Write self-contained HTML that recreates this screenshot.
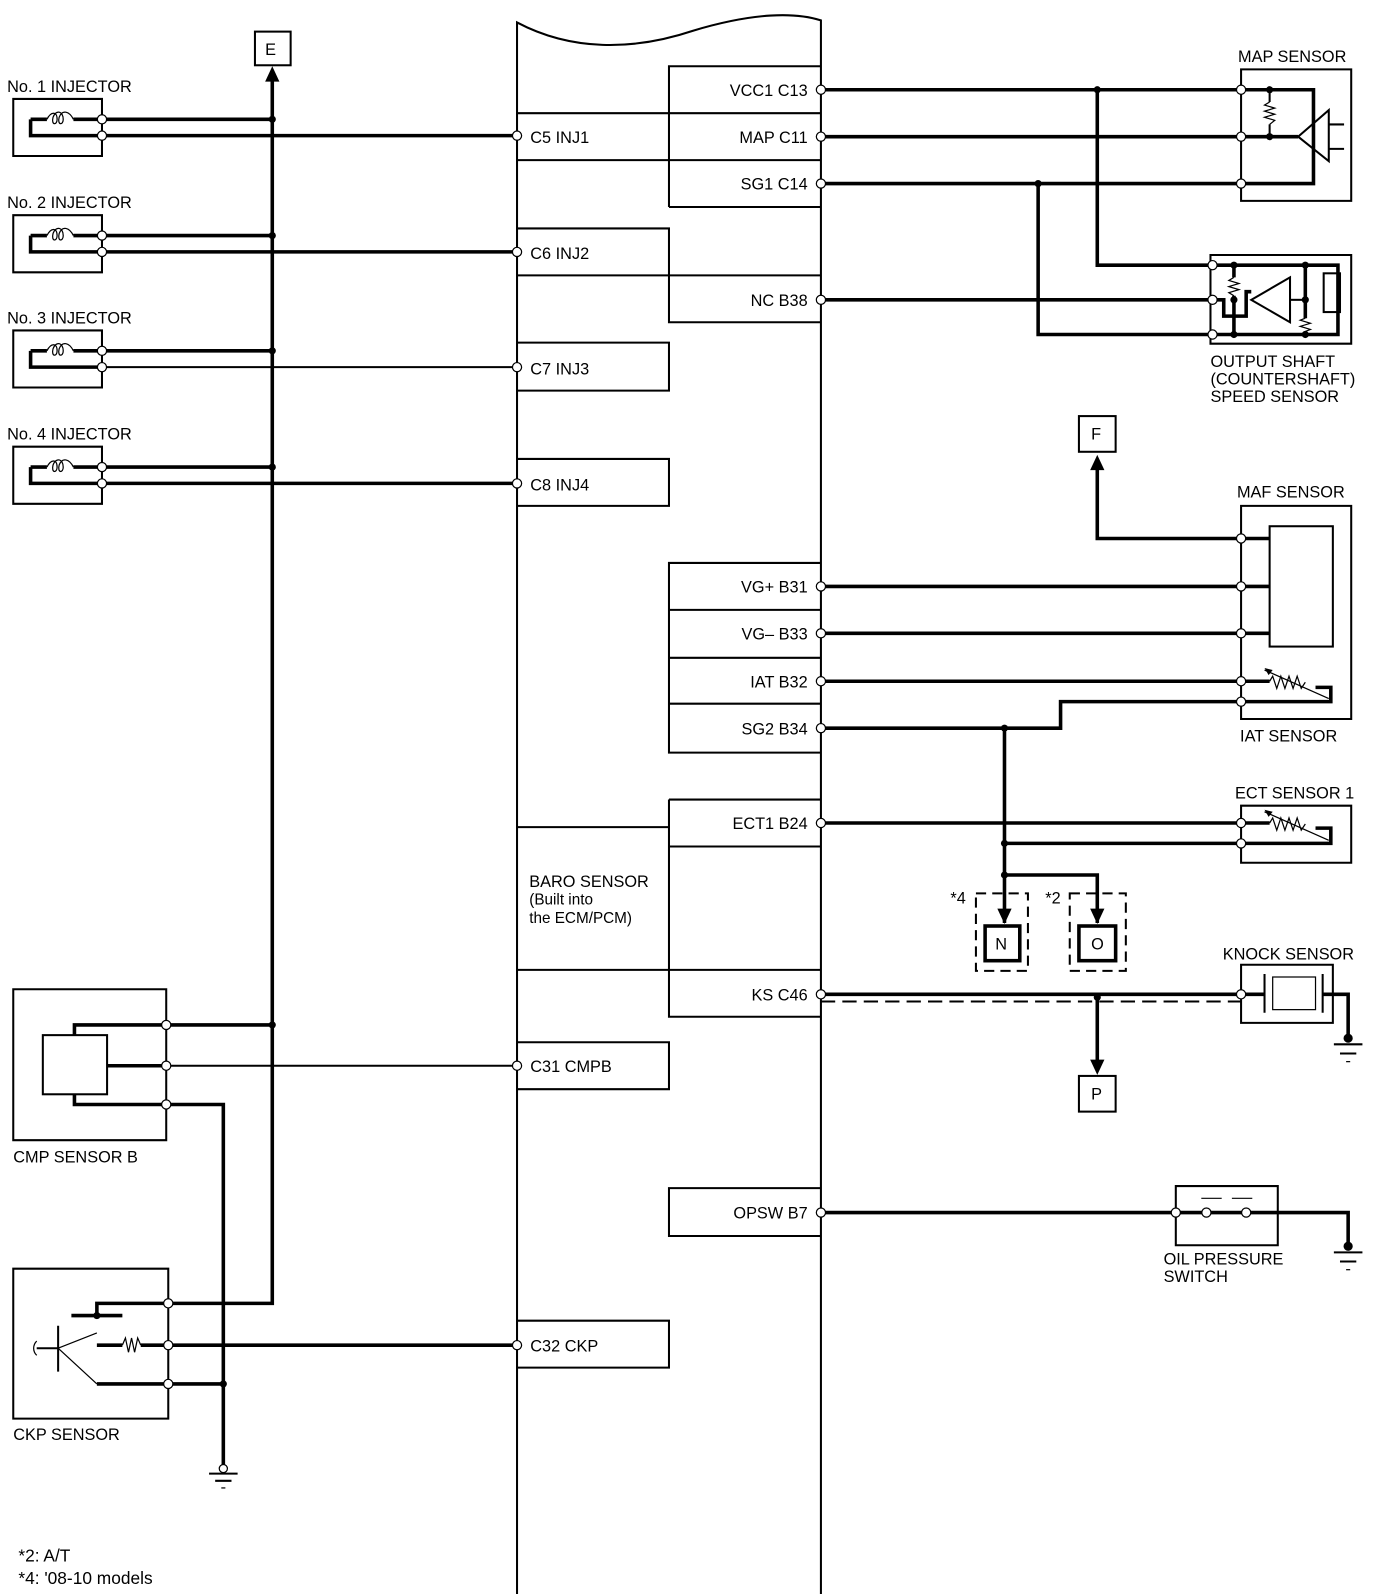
<!DOCTYPE html>
<html><head><meta charset="utf-8"><style>
html,body{margin:0;padding:0;background:#fff}
svg{display:block}
text{font-family:"Liberation Sans",Arial,sans-serif;font-size:16px;fill:#000}
.w{stroke:#000;stroke-width:3.5;fill:none}
.t{stroke:#000;stroke-width:2;fill:none}
.h{stroke:#000;stroke-width:1.2;fill:none}
.p{fill:#fff;stroke:#000;stroke-width:1.2}
.d{fill:#000}
</style></head><body>
<svg width="1392" height="1594" viewBox="0 0 1365 1563" preserveAspectRatio="none" xmlns="http://www.w3.org/2000/svg">
<!-- ECM body -->
<path class="t" d="M507,1563 V22 C560,50 620,50 680,30 C740,12 780,12 805,20 V1563"/>
<!-- right column boxes -->
<path class="t" d="M656,203 V65 H805 M656,111 H805 M656,157 H805 M656,203 H805"/>
<path class="t" d="M507,111 H656 M507,157 H656"/>
<path class="t" d="M507,224 H656 V316 H805 M507,270 H805"/>
<path class="t" d="M507,336 H656 V383 H507"/>
<path class="t" d="M507,450 H656 V496 H507"/>
<path class="t" d="M805,552 H656 V738 H805 M656,598 H805 M656,645 H805 M656,690 H805"/>
<path class="t" d="M507,811 H656 M656,784 H805 M656,830 H805 M656,784 V997 H805 M507,951 H805"/>
<path class="t" d="M507,1022 H656 V1068 H507"/>
<path class="t" d="M805,1165 H656 V1212 H805"/>
<path class="t" d="M507,1295 H656 V1341 H507"/>
<!-- ECM labels -->
<g text-anchor="end">
<text x="792" y="94">VCC1 C13</text>
<text x="792" y="140">MAP C11</text>
<text x="792" y="186">SG1 C14</text>
<text x="792" y="300">NC B38</text>
<text x="792" y="581">VG+ B31</text>
<text x="792" y="627">VG– B33</text>
<text x="792" y="674">IAT B32</text>
<text x="792" y="720">SG2 B34</text>
<text x="792" y="813">ECT1 B24</text>
<text x="792" y="981">KS C46</text>
<text x="792" y="1195">OPSW B7</text>
</g>
<text x="520" y="140">C5 INJ1</text>
<text x="520" y="254">C6 INJ2</text>
<text x="520" y="367">C7 INJ3</text>
<text x="520" y="481">C8 INJ4</text>
<text x="520" y="1051">C31 CMPB</text>
<text x="520" y="1325">C32 CKP</text>
<text x="519" y="870">BARO SENSOR</text>
<text x="519" y="887" style="font-size:15px">(Built into</text>
<text x="519" y="905" style="font-size:15px">the ECM/PCM)</text>

<!-- E bus -->
<rect x="250" y="31" width="35" height="33" class="t"/>
<text x="260" y="54">E</text>
<path class="w" d="M267,78 V1278 H165"/>
<path class="d" d="M260,80 L267,65 L274,80 Z"/>

<!-- injectors -->
<g id="inj">
<text x="7" y="90">No. 1 INJECTOR</text>
<path class="t" d="M100,97 H13 V153 H100 Z"/>
<path class="w" d="M30,117 V133 H100 M30,117 H46 M72,117 H100"/>
<path class="h" d="M46,117 c4,-8 10,-8 10,0 c0,6 -6,6 -4,-2 c3,-8 10,-6 10,2 c0,6 -6,6 -4,-2 c3,-8 10,-6 14,2"/>
<path class="w" d="M100,117 H267"/>
<path class="w" d="M100,133 H507"/>
<circle cx="267" cy="117" r="3.5" class="d"/>
<circle cx="100" cy="117" r="4.5" class="p"/><circle cx="100" cy="133" r="4.5" class="p"/>
<circle cx="507" cy="133" r="4.5" class="p"/>
</g>
<g transform="translate(0,114)">
<text x="7" y="90">No. 2 INJECTOR</text>
<path class="t" d="M100,97 H13 V153 H100 Z"/>
<path class="w" d="M30,117 V133 H100 M30,117 H46 M72,117 H100"/>
<path class="h" d="M46,117 c4,-8 10,-8 10,0 c0,6 -6,6 -4,-2 c3,-8 10,-6 10,2 c0,6 -6,6 -4,-2 c3,-8 10,-6 14,2"/>
<path class="w" d="M100,117 H267"/>
<path class="w" d="M100,133 H507"/>
<circle cx="267" cy="117" r="3.5" class="d"/>
<circle cx="100" cy="117" r="4.5" class="p"/><circle cx="100" cy="133" r="4.5" class="p"/>
<circle cx="507" cy="133" r="4.5" class="p"/>
</g>
<g transform="translate(0,227)">
<text x="7" y="90">No. 3 INJECTOR</text>
<path class="t" d="M100,97 H13 V153 H100 Z"/>
<path class="w" d="M30,117 V133 H100 M30,117 H46 M72,117 H100"/>
<path class="h" d="M46,117 c4,-8 10,-8 10,0 c0,6 -6,6 -4,-2 c3,-8 10,-6 10,2 c0,6 -6,6 -4,-2 c3,-8 10,-6 14,2"/>
<path class="w" d="M100,117 H267"/>
<path class="t" d="M100,133 H507"/>
<circle cx="267" cy="117" r="3.5" class="d"/>
<circle cx="100" cy="117" r="4.5" class="p"/><circle cx="100" cy="133" r="4.5" class="p"/>
<circle cx="507" cy="133" r="4.5" class="p"/>
</g>
<g transform="translate(0,341)">
<text x="7" y="90">No. 4 INJECTOR</text>
<path class="t" d="M100,97 H13 V153 H100 Z"/>
<path class="w" d="M30,117 V133 H100 M30,117 H46 M72,117 H100"/>
<path class="h" d="M46,117 c4,-8 10,-8 10,0 c0,6 -6,6 -4,-2 c3,-8 10,-6 10,2 c0,6 -6,6 -4,-2 c3,-8 10,-6 14,2"/>
<path class="w" d="M100,117 H267"/>
<path class="w" d="M100,133 H507"/>
<circle cx="267" cy="117" r="3.5" class="d"/>
<circle cx="100" cy="117" r="4.5" class="p"/><circle cx="100" cy="133" r="4.5" class="p"/>
<circle cx="507" cy="133" r="4.5" class="p"/>
</g>

<!-- CMP sensor B -->
<path class="t" d="M163,970 H13 V1118 H163 Z"/>
<rect x="42" y="1015" width="63" height="58" class="t"/>
<path class="w" d="M73,1015 V1005 H267 M105,1045 H163 M73,1073 V1083 H219 V1437"/>
<path class="t" d="M163,1045 H507"/>
<circle cx="267" cy="1005" r="3.5" class="d"/>
<circle cx="163" cy="1005" r="4.5" class="p"/><circle cx="163" cy="1045" r="4.5" class="p"/><circle cx="163" cy="1083" r="4.5" class="p"/>
<circle cx="507" cy="1045" r="4.5" class="p"/>
<text x="13" y="1140">CMP SENSOR B</text>

<!-- CKP sensor -->
<path class="t" d="M165,1244 H13 V1391 H165 Z"/>
<path class="w" d="M165,1278 H95 V1290 M70,1290 H120 M95,1319 H120 M138,1319 H165 M95,1357 H219"/>
<path class="h" d="M120,1319 l3,-7 l3,14 l3,-14 l3,14 l3,-14 l3,7"/>
<circle cx="95" cy="1290" r="3.5" class="d"/>
<path class="t" d="M57,1300 V1345 M36,1322 H57"/>
<path class="h" d="M57,1322 L95,1307 M57,1322 L95,1357 M36,1315 c-4,4 -4,10 0,14"/>
<path class="w" d="M165,1319 H507"/>
<circle cx="219" cy="1357" r="3.5" class="d"/>
<circle cx="165" cy="1278" r="4.5" class="p"/><circle cx="165" cy="1319" r="4.5" class="p"/><circle cx="165" cy="1357" r="4.5" class="p"/>
<circle cx="507" cy="1319" r="4.5" class="p"/>
<text x="13" y="1412">CKP SENSOR</text>
<!-- ground -->
<circle cx="219" cy="1440" r="4" class="p"/>
<path class="t" d="M205,1445 H233 M211,1452 H227"/><path class="h" d="M217,1459 H221"/>

<!-- MAP sensor -->
<text x="1214" y="61">MAP SENSOR</text>
<path class="t" d="M1217,68 H1325 V197 H1217 Z"/>
<path class="w" d="M805,88 H1288 V180 H805 M805,134 H1273"/>
<path class="t" d="M1303,122 H1318 M1303,146 H1318"/>
<path class="t" d="M1273,134 L1303,108 V158 Z" fill="#fff"/>
<path class="t" d="M1245,88 V100 M1245,122 V134"/>
<path class="h" d="M1245,100 l-5,3 l10,3 l-10,3 l10,3 l-10,3 l10,3 l-5,4"/>
<circle cx="1245" cy="88" r="3.5" class="d"/><circle cx="1245" cy="134" r="3.5" class="d"/>
<circle cx="1076" cy="88" r="3.5" class="d"/><circle cx="1018" cy="180" r="3.5" class="d"/>
<circle cx="805" cy="88" r="4.5" class="p"/><circle cx="805" cy="134" r="4.5" class="p"/><circle cx="805" cy="180" r="4.5" class="p"/>
<circle cx="1217" cy="88" r="4.5" class="p"/><circle cx="1217" cy="134" r="4.5" class="p"/><circle cx="1217" cy="180" r="4.5" class="p"/>

<!-- Output shaft speed sensor -->
<path class="w" d="M1076,88 V260 H1189 M1018,180 V328 H1189 M805,294 H1189"/>
<path class="t" d="M1187,250 H1325 V337 H1187 Z"/>
<path class="w" d="M1189,260 H1312 V328 H1189 M1210,260 V272 M1210,290 V328 M1280,260 V312 M1189,294 H1200 V310 H1222 V286 H1227"/>
<path class="t" d="M1265,294 H1280"/>
<path class="h" d="M1210,272 l-5,3 l10,3 l-10,3 l10,3 l-10,3 l5,3 M1280,312 l-5,2 l10,3 l-10,3 l10,3 l-5,2"/>
<path class="t" d="M1227,294 L1265,272 V316 Z" fill="#fff"/>
<rect x="1298" y="268" width="16" height="38" class="t" fill="#fff"/>
<circle cx="1210" cy="260" r="3.5" class="d"/><circle cx="1210" cy="294" r="3.5" class="d"/><circle cx="1210" cy="328" r="3.5" class="d"/>
<circle cx="1280" cy="260" r="3.5" class="d"/><circle cx="1280" cy="294" r="3.5" class="d"/><circle cx="1280" cy="328" r="3.5" class="d"/>
<circle cx="805" cy="294" r="4.5" class="p"/>
<circle cx="1189" cy="260" r="4.5" class="p"/><circle cx="1189" cy="294" r="4.5" class="p"/><circle cx="1189" cy="328" r="4.5" class="p"/>
<text x="1187" y="360">OUTPUT SHAFT</text>
<text x="1187" y="377">(COUNTERSHAFT)</text>
<text x="1187" y="394">SPEED SENSOR</text>

<!-- F -->
<rect x="1058" y="408" width="36" height="35" class="t"/>
<text x="1070" y="431">F</text>
<path class="w" d="M1076,460 V528 H1217"/>
<path class="d" d="M1069,461 L1076,446 L1083,461 Z"/>

<!-- MAF / IAT -->
<text x="1213" y="488">MAF SENSOR</text>
<path class="t" d="M1217,496 H1325 V705 H1217 Z"/>
<rect x="1245" y="516" width="62" height="118" class="t"/>
<path class="w" d="M805,575 H1245 M805,621 H1245 M805,668 H1245 M1290,674 H1305 V688 H1217 M805,714 H1040 V688 H1217 M1217,528 H1245"/>
<path class="h" d="M1245,668 l3,-5 l4,12 l4,-12 l4,12 l4,-12 l4,12 l4,-12 l4,12 l4,-6 M1240,657 L1303,685"/>
<path class="d" d="M1240,655 l8,2 l-4,5 Z"/>
<circle cx="985" cy="714" r="3.5" class="d"/>
<circle cx="805" cy="575" r="4.5" class="p"/><circle cx="805" cy="621" r="4.5" class="p"/><circle cx="805" cy="668" r="4.5" class="p"/><circle cx="805" cy="714" r="4.5" class="p"/>
<circle cx="1217" cy="528" r="4.5" class="p"/><circle cx="1217" cy="575" r="4.5" class="p"/><circle cx="1217" cy="621" r="4.5" class="p"/><circle cx="1217" cy="668" r="4.5" class="p"/><circle cx="1217" cy="688" r="4.5" class="p"/>
<text x="1216" y="727">IAT SENSOR</text>

<!-- ECT -->
<text x="1211" y="783">ECT SENSOR 1</text>
<path class="t" d="M1217,790 H1325 V846 H1217 Z"/>
<path class="w" d="M805,807 H1245 M1290,812 H1305 V827 H985 M985,714 V905 M985,858 H1076 V905"/>
<path class="h" d="M1245,807 l3,-5 l4,12 l4,-12 l4,12 l4,-12 l4,12 l4,-12 l4,12 l4,-6 M1240,796 L1303,824"/>
<path class="d" d="M1240,794 l8,2 l-4,5 Z"/>
<circle cx="985" cy="827" r="3.5" class="d"/><circle cx="985" cy="858" r="3.5" class="d"/>
<circle cx="805" cy="807" r="4.5" class="p"/>
<circle cx="1217" cy="807" r="4.5" class="p"/><circle cx="1217" cy="827" r="4.5" class="p"/>
<path class="d" d="M978,891 L985,906 L992,891 Z M1069,891 L1076,906 L1083,891 Z"/>
<path class="t" stroke-dasharray="10,6" d="M957,876 H1008 V952 H957 Z M1049,876 H1104 V952 H1049 Z"/>
<rect x="966" y="908" width="34" height="34" class="w"/>
<rect x="1058" y="908" width="36" height="34" class="w"/>
<text x="976" y="931">N</text><text x="1070" y="931">O</text>
<text x="932" y="886">*4</text><text x="1025" y="886">*2</text>

<!-- Knock -->
<text x="1199" y="941">KNOCK SENSOR</text>
<path class="t" d="M1217,946 H1307 V1003 H1217 Z"/>
<path class="w" d="M805,975 H1240 M1297,975 H1322 V1018 M1076,978 V1040"/>
<path class="t" stroke-dasharray="14,7" d="M805,982 H1217"/>
<path class="t" d="M1240,955 V993 M1297,955 V993"/>
<rect x="1248" y="958" width="42" height="32" class="h"/>
<circle cx="1076" cy="978" r="3.5" class="d"/>
<path class="d" d="M1069,1039 L1076,1054 L1083,1039 Z"/>
<rect x="1058" y="1055" width="36" height="35" class="t"/>
<text x="1070" y="1078">P</text>
<circle cx="805" cy="975" r="4.5" class="p"/><circle cx="1217" cy="975" r="4.5" class="p"/>
<circle cx="1322" cy="1018" r="4.5" class="d"/>
<path class="t" d="M1308,1024 H1336 M1314,1033 H1330"/><path class="h" d="M1320,1041 H1324"/>

<!-- Oil pressure -->
<path class="t" d="M1153,1163 H1253 V1221 H1153 Z"/>
<path class="w" d="M805,1189 H1322 V1222"/>
<path class="h" d="M1178,1175 H1198 M1208,1175 H1228"/>
<circle cx="1183" cy="1189" r="4.5" class="p"/><circle cx="1222" cy="1189" r="4.5" class="p"/>
<circle cx="805" cy="1189" r="4.5" class="p"/><circle cx="1153" cy="1189" r="4.5" class="p"/>
<circle cx="1322" cy="1222" r="4.5" class="d"/>
<path class="t" d="M1308,1228 H1336 M1314,1237 H1330"/><path class="h" d="M1320,1245 H1324"/>
<text x="1141" y="1240">OIL PRESSURE</text>
<text x="1141" y="1257">SWITCH</text>

<!-- footnotes -->
<text x="18" y="1531" style="font-size:17px">*2:  A/T</text>
<text x="18" y="1553" style="font-size:17px">*4:  '08-10 models</text>
</svg>
</body></html>
